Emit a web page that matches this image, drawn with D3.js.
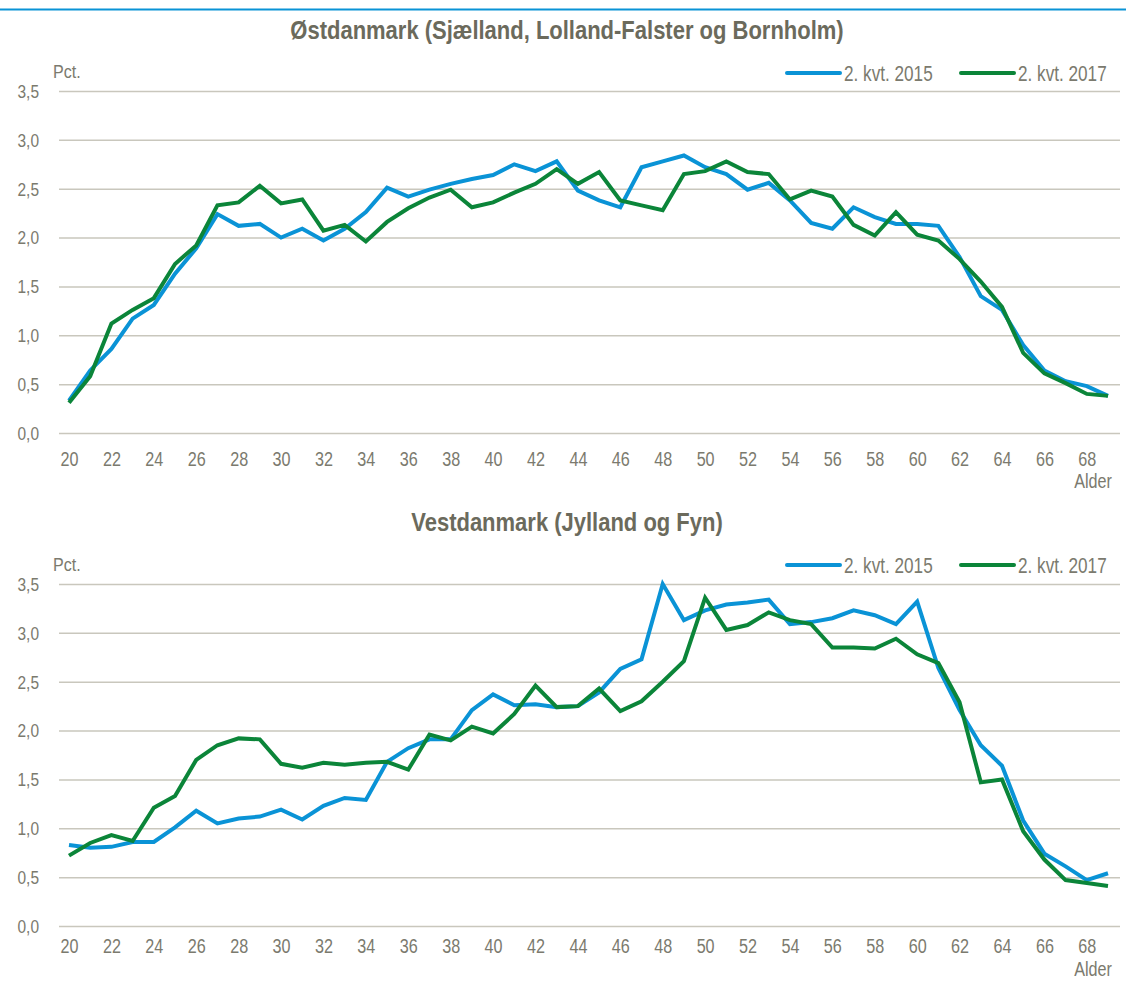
<!DOCTYPE html>
<html>
<head>
<meta charset="utf-8">
<script src="https://cdn.jsdelivr.net/npm/d3@7"></script>
<style>
  html, body { margin: 0; padding: 0; background: #fff; }
  svg { display: block; }
  text { font-family: "Liberation Sans", Arial, sans-serif; }
</style>
</head>
<body>
<svg id="chart" width="1126" height="983"></svg>
<script>
const ages = d3.range(20, 70);
const xTickLabels = d3.range(20, 69, 2);
const yTickValues = [0, 0.5, 1, 1.5, 2, 2.5, 3, 3.5];
const seriesNames = ["2. kvt. 2015", "2. kvt. 2017"];
const panelTitles = ["Østdanmark (Sjælland, Lolland-Falster og Bornholm)", "Vestdanmark (Jylland og Fyn)"];

const east2015 = [0.33,0.64,0.86,1.17,1.31,1.63,1.89,2.24,2.12,2.14,2.00,2.09,1.97,2.09,2.26,2.51,2.42,2.49,2.55,2.60,2.64,2.75,2.68,2.78,2.48,2.38,2.31,2.72,2.78,2.84,2.72,2.65,2.49,2.56,2.38,2.15,2.09,2.31,2.21,2.14,2.14,2.12,1.80,1.40,1.26,0.90,0.64,0.53,0.48,0.38];
const east2017 = [0.31,0.58,1.12,1.26,1.38,1.73,1.92,2.33,2.36,2.53,2.35,2.39,2.07,2.13,1.96,2.16,2.30,2.41,2.49,2.31,2.36,2.46,2.55,2.70,2.55,2.67,2.38,2.33,2.28,2.65,2.68,2.78,2.67,2.65,2.39,2.48,2.42,2.13,2.02,2.26,2.03,1.97,1.78,1.55,1.29,0.82,0.61,0.51,0.40,0.38];
const west2015 = [0.83,0.80,0.81,0.86,0.86,1.01,1.18,1.05,1.10,1.12,1.19,1.09,1.23,1.31,1.29,1.68,1.82,1.91,1.91,2.21,2.37,2.26,2.27,2.24,2.25,2.39,2.63,2.73,3.50,3.13,3.23,3.29,3.31,3.34,3.09,3.11,3.15,3.23,3.18,3.09,3.32,2.64,2.21,1.85,1.64,1.08,0.74,0.61,0.47,0.54];
const west2017 = [0.72,0.85,0.93,0.87,1.21,1.33,1.70,1.85,1.92,1.91,1.66,1.62,1.67,1.65,1.67,1.68,1.60,1.96,1.90,2.04,1.97,2.17,2.46,2.24,2.25,2.43,2.20,2.30,2.50,2.71,3.36,3.03,3.08,3.21,3.13,3.09,2.85,2.85,2.84,2.94,2.78,2.69,2.29,1.47,1.50,0.97,0.68,0.47,0.44,0.41];

const colors = ["#0a93d6", "#0b8539"];
const titleColor = "#6b6a5c";
const tickColor = "#7b7a6e";
const gridColor = "#c9c7bd";

const svg = d3.select("#chart");

// narrow text helper: place at (x,y) and compress horizontally
function ntext(parent, x, y, str, size, sx, anchor, weight, color) {
  return parent.append("text")
    .attr("transform", `translate(${x},${y}) scale(${sx},1)`)
    .attr("dy", "0.35em")
    .attr("text-anchor", anchor || "start")
    .attr("font-size", size)
    .attr("font-weight", weight || "normal")
    .attr("fill", color || tickColor)
    .text(str);
}

// top rule
svg.append("line").attr("x1", 0).attr("x2", 1126).attr("y1", 9.5).attr("y2", 9.5)
  .attr("stroke", colors[0]).attr("stroke-width", 2);

const x = d3.scaleLinear().domain([20, 69]).range([69, 1108]);

const panels = [
  { title: panelTitles[0], data: [east2015, east2017], titleY: 30, legendY: 73, pctY: 72, yTop: 91, yBot: 433, xLabY: 459, alderY: 481 },
  { title: panelTitles[1], data: [west2015, west2017], titleY: 522, legendY: 565, pctY: 565, yTop: 584, yBot: 926, xLabY: 946, alderY: 969 }
];

panels.forEach(p => {
  const g = svg.append("g");
  const y = d3.scaleLinear().domain([0, 3.5]).range([p.yBot, p.yTop]);

  ntext(g, 567, p.titleY, p.title, 25, 0.88, "middle", "bold", titleColor);
  ntext(g, 53, p.pctY, "Pct.", 17.5, 0.92);

  // gridlines + y labels
  const yAxis = d3.axisLeft(y).tickValues(yTickValues).tickSize(-(1120 - 59))
    .tickFormat(d => d3.format(".1f")(d).replace(".", ","));
  const ya = g.append("g").attr("transform", "translate(59,0)").call(yAxis);
  ya.select(".domain").remove();
  ya.selectAll(".tick line").attr("stroke", gridColor).attr("stroke-width", 1.5);
  ya.selectAll(".tick text")
    .attr("x", null).attr("dy", "0.35em")
    .attr("transform", `translate(-20,0) scale(0.86,1)`)
    .attr("font-size", 18).attr("fill", tickColor);

  const xAxis = d3.axisBottom(x).tickValues(xTickLabels).tickSize(0).tickFormat(d3.format("d"));
  const xa = g.append("g").attr("transform", `translate(0,${p.xLabY})`).call(xAxis);
  xa.select(".domain").remove();
  xa.selectAll(".tick text").attr("y", null).attr("dy", "0.35em")
    .attr("transform", `scale(0.77,1)`)
    .attr("font-size", 21).attr("fill", tickColor);

  ntext(g, 1093, p.alderY, "Alder", 21, 0.77, "middle");

  const line = d3.line().x((d, i) => x(ages[i])).y(d => y(d));
  p.data.forEach((s, k) => {
    g.append("path").datum(s).attr("d", line).attr("fill", "none")
      .attr("stroke", colors[k]).attr("stroke-width", 4).attr("stroke-linejoin", "miter");
  });

  // legend
  const legX = [787, 961];
  seriesNames.forEach((n, k) => {
    g.append("line").attr("x1", legX[k]).attr("x2", legX[k] + 53)
      .attr("y1", p.legendY).attr("y2", p.legendY)
      .attr("stroke", colors[k]).attr("stroke-width", 4).attr("stroke-linecap", "round");
    ntext(g, legX[k] + 57, p.legendY, n, 22, 0.78);
  });
});
</script>
</body>
</html>
